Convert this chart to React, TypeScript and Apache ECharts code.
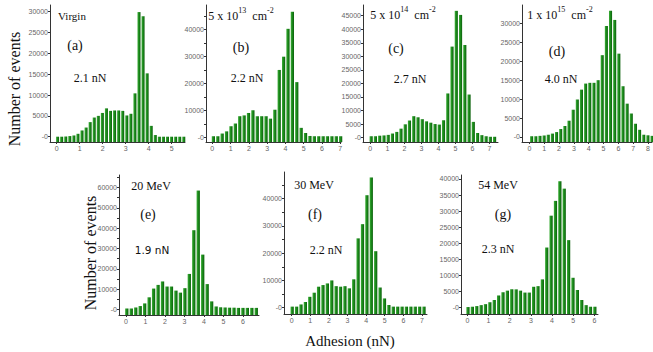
import React, { useEffect, useRef } from "react";
import * as echarts from "echarts";

// ---------- data (counts per adhesion bin) ----------
const countsA = [0, 0, 50, 150, 300, 700, 1500, 2200, 3500, 4600, 5000, 5700, 6800, 6200, 6300, 6300, 6200, 5100, 5500, 10400, 29900, 28900, 15200, 2600, 400, 0, 0, 0, 0, 0, 0, 0];
const countsB = [500, 500, 1500, 2300, 4200, 5200, 7900, 8200, 9100, 10100, 7900, 7900, 7900, 7000, 10300, 25000, 29900, 40200, 46500, 20500, 3600, 1700, 600, 500, 500, 500, 500, 500, 500, 500];
const countsC = [500, 500, 700, 800, 1000, 1500, 2100, 3300, 4900, 6300, 7900, 7500, 6800, 6000, 5500, 5000, 4800, 6400, 16300, 33600, 46800, 45300, 34200, 15900, 5800, 1700, 900, 500, 300, 300];
const countsD = [200, 200, 300, 400, 600, 900, 1300, 2100, 2900, 4300, 7200, 9900, 12500, 14100, 14300, 14300, 15000, 21600, 29300, 33300, 30900, 22000, 13400, 8800, 6200, 3500, 1900, 600, 450, 300];
const countsE = [500, 500, 1000, 1700, 3000, 6000, 10300, 12100, 13800, 11300, 11300, 9300, 8300, 10500, 17500, 39000, 58500, 27000, 12500, 4000, 1500, 1100, 1000, 900, 900, 800, 800, 800, 800, 800];
const countsF = [400, 400, 1200, 2100, 4000, 5500, 7700, 8300, 8900, 10000, 7900, 7700, 7900, 7100, 10400, 25400, 30600, 41200, 47700, 20700, 7400, 3400, 1000, 400, 400, 400, 400, 400, 400, 400, 400];
const countsG = [200, 300, 500, 800, 1100, 1700, 2400, 3800, 4800, 5300, 5700, 5700, 5300, 4700, 4700, 6500, 6700, 8800, 18700, 28600, 33200, 39300, 37000, 21000, 9300, 5500, 2400, 800, 300, 300];

// bin centre of first bin and bin width (nN)
const binStartA = 0.04, binStepA = 0.177;
const binStartB = 0.06, binStepB = 0.24;
const binStartC = 0.05, binStepC = 0.25;
const binStartD = 0.15, binStepD = 0.28;
const binStartE = 0.04, binStepE = 0.229;
const binStartF = 0.03, binStepF = 0.236;
const binStartG = 0.03, binStepG = 0.2066;

// tick labels
const xTicksA = [0, 1, 2, 3, 4, 5];
const xTicksB = [0, 1, 2, 3, 4, 5, 6, 7];
const xTicksC = [0, 1, 2, 3, 4, 5, 6, 7];
const xTicksD = [0, 1, 2, 3, 4, 5, 6, 7, 8];
const xTicksE = [0, 1, 2, 3, 4, 5, 6];
const xTicksF = [0, 1, 2, 3, 4, 5, 6, 7];
const xTicksG = [0, 1, 2, 3, 4, 5, 6];

const yLabelsA = [0, 5000, 10000, 15000, 20000, 25000, 30000];
const yLabelsB = [0, 10000, 20000, 30000, 40000];
const yLabelsC = [0, 5000, 10000, 15000, 20000, 25000, 30000, 35000, 40000, 45000];
const yLabelsD = [0, 5000, 10000, 15000, 20000, 25000, 30000];
const yLabelsE = [0, 10000, 20000, 30000, 40000, 50000, 60000];
const yLabelsF = [0, 10000, 20000, 30000, 40000];
const yLabelsG = [0, 5000, 10000, 15000, 20000, 25000, 30000, 35000, 40000];

const yTickMarksB = [0, 5000, 10000, 15000, 20000, 25000, 30000, 35000, 40000, 45000];
const yTickMarksE = [0, 5000, 10000, 15000, 20000, 25000, 30000, 35000, 40000, 45000, 50000, 55000, 60000, 65000];
const yTickMarksF = [0, 5000, 10000, 15000, 20000, 25000, 30000, 35000, 40000, 45000];

// ---------- layout ----------
const panels = [
  { counts: countsA, start: binStartA, step: binStepA, xTicks: xTicksA, yLabels: yLabelsA, yTicks: yLabelsA,
    grid: { left: 50, top: 5, width: 135, height: 137 }, xMin: -0.29, xMax: 5.58, yMin: -1270, yMax: 31600 },
  { counts: countsB, start: binStartB, step: binStepB, xTicks: xTicksB, yLabels: yLabelsB, yTicks: yTickMarksB,
    grid: { left: 206, top: 5, width: 135, height: 137 }, xMin: -0.345, xMax: 7.04, yMin: -1630, yMax: 49000 },
  { counts: countsC, start: binStartC, step: binStepC, xTicks: xTicksC, yLabels: yLabelsC, yTicks: yLabelsC,
    grid: { left: 363, top: 5, width: 135, height: 137 }, xMin: -0.43, xMax: 7.5, yMin: -1630, yMax: 48960 },
  { counts: countsD, start: binStartD, step: binStepD, xTicks: xTicksD, yLabels: yLabelsD, yTicks: yLabelsD,
    grid: { left: 522, top: 5, width: 131, height: 137 }, xMin: -0.5, xMax: 8.27, yMin: -1320, yMax: 34840 },
  { counts: countsE, start: binStartE, step: binStepE, xTicks: xTicksE, yLabels: yLabelsE, yTicks: yTickMarksE,
    grid: { left: 119, top: 175, width: 140, height: 140 }, xMin: -0.36, xMax: 6.82, yMin: -2700, yMax: 66150 },
  { counts: countsF, start: binStartF, step: binStepF, xTicks: xTicksF, yLabels: yLabelsF, yTicks: yTickMarksF,
    grid: { left: 284, top: 172, width: 143, height: 142 }, xMin: -0.41, xMax: 7.27, yMin: -2300, yMax: 49700 },
  { counts: countsG, start: binStartG, step: binStepG, xTicks: xTicksG, yLabels: yLabelsG, yTicks: yLabelsG,
    grid: { left: 461, top: 175, width: 137, height: 139 }, xMin: -0.3, xMax: 6.17, yMin: -1960, yMax: 41240 },
];

const SERIF = "Liberation Serif";
const SANS = "Liberation Sans";

function txt(text: string, x: number, y: number, size: number, family = SERIF, extra: any = {}) {
  return {
    type: "text",
    x,
    y,
    ...extra,
    style: {
      text,
      fontSize: size,
      fontFamily: family,
      fill: "#111",
      align: "center",
      verticalAlign: "middle",
      textAlign: "center",
      textVerticalAlign: "middle",
    },
  };
}

function fluence(mant: string, exp: string, x: number, y: number) {
  return {
    type: "text",
    x,
    y,
    style: {
      text: `{m|${mant} x 10}{s|${exp}}{m|  cm}{s|-2}`,
      align: "center",
      verticalAlign: "middle",
      textAlign: "center",
      textVerticalAlign: "middle",
      rich: {
        m: { fontSize: 12, fontFamily: SERIF, fill: "#111", lineHeight: 15, verticalAlign: "bottom" },
        s: { fontSize: 8, fontFamily: SERIF, fill: "#111", lineHeight: 9, verticalAlign: "top" },
      },
    },
  };
}

export default function App() {
  const ref = useRef<HTMLDivElement>(null);

  useEffect(() => {
    document.body.style.margin = "0";
    if (!ref.current) return;
    const chart = echarts.init(ref.current, undefined, { renderer: "svg" });

    const barFill = new echarts.graphic.LinearGradient(0, 0, 1, 0, [
      { offset: 0, color: "#3fae3a" },
      { offset: 0.45, color: "#1c8c1c" },
      { offset: 1, color: "#0c600c" },
    ]);

    const yFmt = (v: number) => (v === 0 ? "-0" : String(v));

    const option: any = {
      animation: false,
      grid: panels.map((p) => ({ ...p.grid, containLabel: false })),
      xAxis: panels.map((p, i) => ({
        gridIndex: i,
        type: "value",
        min: p.xMin,
        max: p.xMax,
        axisLine: { show: true, onZero: false, lineStyle: { color: "#333", width: 1 } },
        axisTick: { show: true, length: 2, customValues: p.xTicks, lineStyle: { color: "#333" } },
        axisLabel: { customValues: p.xTicks, fontSize: 7, color: "#666", margin: 3, fontFamily: SANS },
        splitLine: { show: false },
      })),
      yAxis: panels.map((p, i) => ({
        gridIndex: i,
        type: "value",
        min: p.yMin,
        max: p.yMax,
        axisLine: { show: true, onZero: false, lineStyle: { color: "#333", width: 1 } },
        axisTick: { show: true, length: 2, customValues: p.yTicks, lineStyle: { color: "#333" } },
        axisLabel: { customValues: p.yLabels, formatter: yFmt, fontSize: 7, color: "#666", margin: 2, fontFamily: SANS },
        splitLine: { show: false },
      })),
      series: panels.map((p, i) => ({
        type: "custom",
        xAxisIndex: i,
        yAxisIndex: i,
        clip: false,
        encode: { x: 0, y: 1 },
        data: p.counts.map((c, k) => [p.start + p.step * k, c]),
        renderItem: (params: any, api: any) => {
          const x = api.value(0);
          const v = api.value(1);
          const top = api.coord([x, v]);
          const base = api.coord([x, p.yMin]);
          const w = api.size([p.step, 0])[0] * 0.74;
          return {
            type: "rect",
            shape: { x: top[0] - w / 2, y: top[1], width: w, height: base[1] - top[1] },
            style: { fill: barFill },
          };
        },
      })),
      graphic: [
        txt("Number of events", 14, 89, 16, SERIF, { rotation: Math.PI / 2 }),
        txt("Number of events", 90, 253, 16, SERIF, { rotation: Math.PI / 2 }),
        txt("Adhesion (nN)", 350, 341, 15),
        // (a)
        txt("Virgin", 72, 16, 11),
        txt("(a)", 75, 45, 14),
        txt("2.1 nN", 90, 78, 12),
        // (b)
        fluence("5", "13", 241, 14),
        txt("(b)", 241, 47, 14),
        txt("2.2 nN", 247, 78, 12),
        // (c)
        fluence("5", "14", 403, 13),
        txt("(c)", 396, 48, 14),
        txt("2.7 nN", 410, 79, 12),
        // (d)
        fluence("1", "15", 560, 13),
        txt("(d)", 557, 51, 14),
        txt("4.0 nN", 561, 79, 12),
        // (e)
        txt("20 MeV", 151, 186, 12),
        txt("(e)", 148, 214, 14),
        txt("1.9 nN", 152, 250, 10.5, "DejaVu Sans"),
        // (f)
        txt("30 MeV", 314, 185, 12),
        txt("(f)", 315, 214, 14),
        txt("2.2 nN", 326, 250, 12),
        // (g)
        txt("54 MeV", 498, 185, 12),
        txt("(g)", 503, 214, 14),
        txt("2.3 nN", 498, 249, 12),
      ],
    };

    chart.setOption(option);
    return () => chart.dispose();
  }, []);

  return <div ref={ref} style={{ width: 653, height: 352, background: "#fff" }} />;
}
